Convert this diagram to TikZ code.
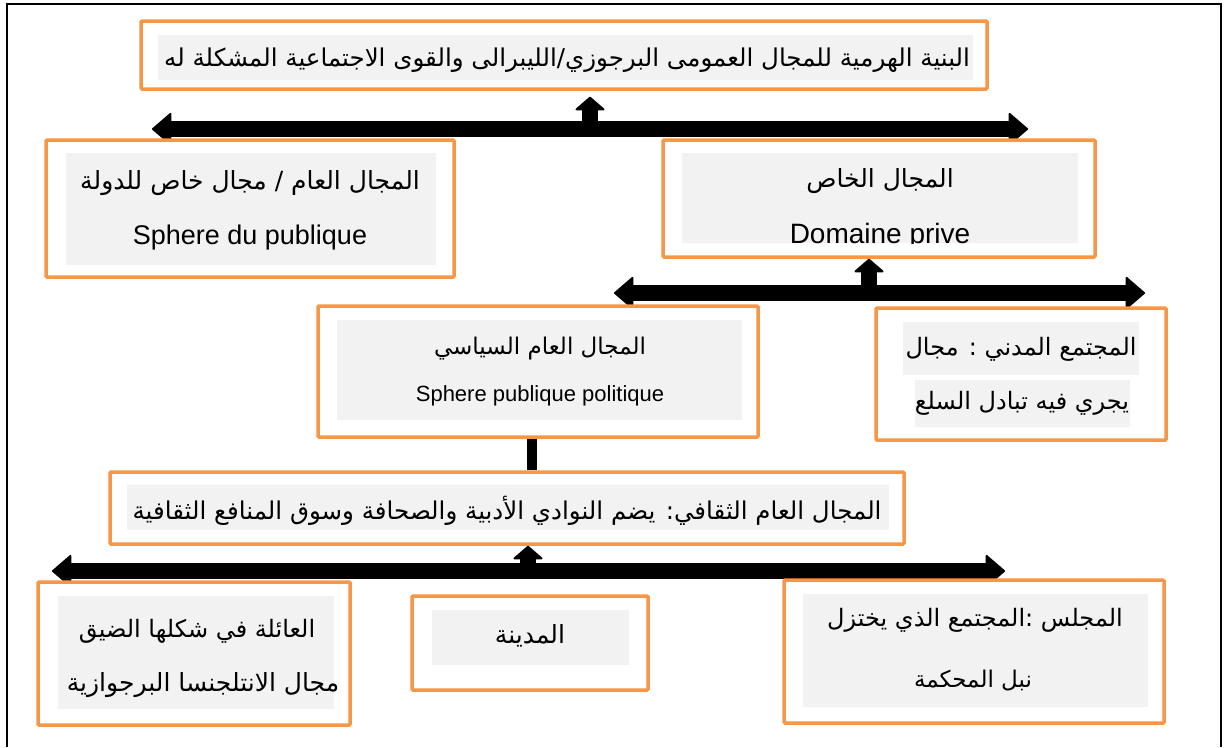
\documentclass[tikz,border=0pt]{standalone}
\usepackage{fontspec}
\setmainfont{Liberation Sans}
\newfontfamily\arabicfont[Script=Arabic]{DejaVu Sans}
\TeXXeTstate=1
\usetikzlibrary{arrows.meta}
\definecolor{boxorange}{HTML}{F79646}
\definecolor{boxgray}{HTML}{F2F2F2}
\begin{document}
\begin{tikzpicture}[x=1pt,y=-1pt,
  obox/.style={draw=boxorange, line width=3.5pt, fill=white, rounded corners=1pt, inner sep=0pt},
  gbox/.style={fill=boxgray},
  bar/.style={line width=16pt, black},
  lbl/.style={inner sep=0pt, anchor=center},
  ar/.style={lbl, font=\arabicfont\fontsize{#1}{#1}\selectfont},
  en/.style={lbl, font=\fontsize{#1}{#1}\selectfont},
  ht/.tip={Triangle[width=34pt,length=20pt,line width'=2pt,round]},
  ut/.tip={Triangle[width=32pt,length=14pt,line width'=2pt,round]}
]
\useasboundingbox (0,0) rectangle (1225,747);
% outer frame
\draw[line width=2pt] (7,747) -- (7,4) -- (1221,4) -- (1221,747);

% invisible copies of the parent boxes, so connectors can refer to them
\begin{scope}[opacity=0]
\node[obox, minimum width=846pt, minimum height=68pt] (top) at (564,55) {};
\node[obox, minimum width=432pt, minimum height=117pt] (priv) at (879,198.5) {};
\node[obox, minimum width=440pt, minimum height=131pt] (pol) at (538,371.5) {};
\node[obox, minimum width=794pt, minimum height=72pt] (cult) at (507,508) {};
\end{scope}

% connectors
\coordinate (b1L) at (152,129); \coordinate (b1R) at (1028,129); \coordinate (b1S) at (590,129);
\draw[bar, ht-ht] (b1L) -- (b1R);
\draw[bar, -ut, shorten >=6pt] (b1S) -- (b1S |- top.south);

\coordinate (b2L) at (614,293); \coordinate (b2R) at (1145,293); \coordinate (b2S) at (869,293);
\draw[bar, ht-ht] (b2L) -- (b2R);
\draw[bar, -ut] (b2S) -- (b2S |- priv.south);

\coordinate (v3) at (532,450);
\draw[line width=10pt] (v3 |- pol.south) -- (v3 |- cult.north);

\coordinate (b4L) at (52,571); \coordinate (b4R) at (1005,571); \coordinate (b4S) at (528,571);
\draw[bar, ht-ht] (b4L) -- (b4R);
\draw[bar, -ut] (b4S) -- (b4S |- cult.south);

% boxes
\node[obox, minimum width=846pt, minimum height=68pt] (topb) at (564,55) {};
\node[obox, minimum width=408pt, minimum height=137pt] (pub) at (250,208.5) {};
\node[obox, minimum width=432pt, minimum height=117pt] (privb) at (879,198.5) {};
\node[obox, minimum width=440pt, minimum height=131pt] (polb) at (538,371.5) {};
\node[obox, minimum width=290pt, minimum height=132pt] (civ) at (1021,374) {};
\node[obox, minimum width=794pt, minimum height=72pt] (cultb) at (507,508) {};
\node[obox, minimum width=312pt, minimum height=143pt] (fam) at (194,653.5) {};
\node[obox, minimum width=236pt, minimum height=94pt] (mad) at (530,643) {};
\node[obox, minimum width=380pt, minimum height=143pt] (maj) at (974,651.5) {};

% gray panels
\fill[gbox] (158,35) rectangle (973,80);
\fill[gbox] (66,153) rectangle (436,265);
\fill[gbox] (682,153) rectangle (1078,243);
\fill[gbox] (337,320) rectangle (742,420);
\fill[gbox] (903,322) rectangle (1139,375);
\fill[gbox] (915,380) rectangle (1130,427);
\fill[gbox] (127,485) rectangle (889,530);
\fill[gbox] (58,596) rectangle (334,709);
\fill[gbox] (432,610) rectangle (629,665);
\fill[gbox] (803,594) rectangle (1148,707);

% texts
\node[ar=24.5] (t1) at (567,60) {\beginR البنية الهرمية للمجال العمومى البرجوزي/الليبرالى والقوى الاجتماعية المشكلة له\endR};
\node[ar=25] (t2a) at (250,183) {\beginR المجال العام / مجال خاص للدولة\endR};
\node[en=27] (t2b) at (250,238) {Sphere du publique};
\node[ar=25] (t3a) at (880,181) {\beginR المجال الخاص\endR};
\begin{scope}
\clip (682,153) rectangle (1078,243);
\node[en=28, anchor=base] (t3b) at (880,243) {Domaine prive};
\end{scope}
\node[ar=23] (t4a) at (540,349) {\beginR المجال العام السياسي\endR};
\node[en=22] (t4b) at (540,396) {Sphere publique politique};
\node[ar=24] (t5a) at (1021,349) {\beginR المجتمع المدني : مجال\endR};
\node[ar=24] (t5b) at (1022,403) {\beginR يجري فيه تبادل السلع\endR};
\node[ar=24.5] (t6) at (507,511) {\beginR المجال العام الثقافي: يضم النوادي الأدبية والصحافة وسوق المنافع الثقافية\endR};
\node[ar=24] (t7a) at (197,631) {\beginR العائلة في شكلها الضيق\endR};
\node[ar=25] (t7b) at (203,685) {\beginR مجال الانتلجنسا البرجوازية\endR};
\node[ar=25] (t8) at (530,636) {\beginR المدينة\endR};
\node[ar=24] (t9a) at (975,620) {\beginR المجلس :المجتمع الذي يختزل\endR};
\node[ar=23] (t9b) at (973,681) {\beginR نبل المحكمة\endR};
\end{tikzpicture}
\end{document}
